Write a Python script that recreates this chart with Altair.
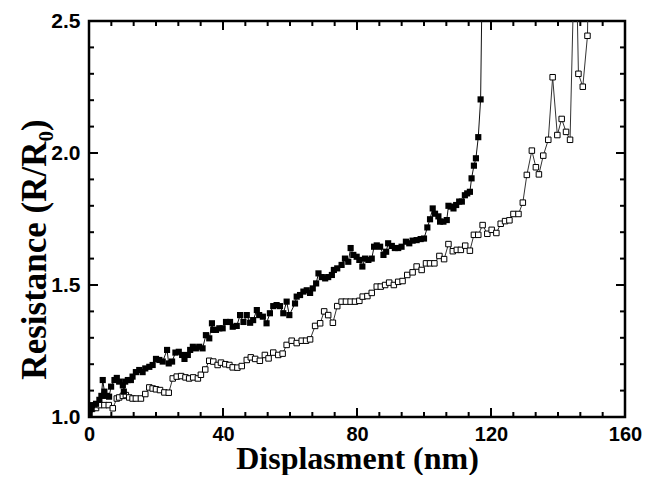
import altair as alt
import pandas as pd

# ---- data ----
filled_x = [0.2, 0.8, 1.1, 2.1, 3.1, 3.7, 4.1, 4.6, 5.3, 6.0, 6.6, 7.6, 8.3, 9.0, 10.1, 10.4, 10.8, 11.6,
            12.5, 13.0, 14.0, 15.0, 16.0, 16.8, 18.0, 19.0, 20.0, 21.0, 22.0, 23.3, 23.8, 24.8, 25.8, 26.8,
            27.8, 28.5, 29.5, 30.2, 31.0, 31.9, 32.9, 33.9, 34.9, 35.9, 36.7, 37.1, 37.9, 38.9, 39.9, 40.9,
            42.1, 42.9, 44.1, 45.1, 46.1, 47.1, 48.1, 49.0, 50.1, 50.8, 51.9, 53.0, 54.0, 55.0, 56.0, 57.0,
            58.0, 59.0, 59.8, 61.5, 62.0, 63.0, 64.0, 65.0, 66.0, 66.8, 67.8, 68.5, 69.5, 70.5, 71.4, 72.5,
            73.1, 74.1, 75.4, 76.4, 77.4, 78.1, 78.9, 79.9, 80.7, 81.6, 82.4, 83.4, 84.4, 85.1, 85.9, 86.9,
            87.9, 88.7, 89.3, 90.4, 91.3, 92.3, 93.3, 94.6, 95.6, 96.6, 97.8, 99.0, 100.0, 101.0, 101.8,
            102.6, 103.3, 104.3, 104.8, 105.8, 106.8, 107.3, 108.1, 108.8, 109.6, 110.5, 111.3, 112.2,
            112.9, 113.7, 114.2, 114.9, 115.5, 116.2, 116.9, 117.5]
filled_y = [1.01, 1.03, 1.045, 1.05, 1.065, 1.08, 1.14, 1.096, 1.08, 1.077, 1.115, 1.14, 1.148, 1.134, 1.12,
            1.096, 1.134, 1.14, 1.14, 1.153, 1.17, 1.178, 1.17, 1.184, 1.19, 1.197, 1.22, 1.216, 1.21, 1.254,
            1.203, 1.21, 1.244, 1.247, 1.235, 1.22, 1.235, 1.254, 1.266, 1.26, 1.266, 1.26, 1.31, 1.298,
            1.355, 1.33, 1.33, 1.336, 1.336, 1.36, 1.36, 1.342, 1.345, 1.386, 1.36, 1.386, 1.357, 1.367,
            1.405, 1.386, 1.38, 1.355, 1.393, 1.42, 1.424, 1.42, 1.393, 1.437, 1.386, 1.43, 1.456, 1.462,
            1.475, 1.48, 1.47, 1.487, 1.506, 1.544, 1.53, 1.525, 1.53, 1.538, 1.557, 1.563, 1.576, 1.6,
            1.588, 1.64, 1.614, 1.607, 1.595, 1.57, 1.6, 1.595, 1.6, 1.645, 1.65, 1.645, 1.614, 1.626,
            1.658, 1.648, 1.64, 1.64, 1.645, 1.664, 1.658, 1.668, 1.67, 1.674, 1.676, 1.718, 1.749, 1.79,
            1.77, 1.76, 1.74, 1.74, 1.746, 1.80, 1.797, 1.79, 1.803, 1.816, 1.816, 1.84, 1.847, 1.853,
            1.904, 1.952, 1.98, 2.06, 2.203, 2.8]

open_x = [0.1, 1.1, 2.1, 3.1, 4.6, 5.9, 7.1, 8.3, 9.0, 10.1, 11.0, 12.0, 13.0, 14.0, 15.5, 16.8, 18.0,
          19.0, 20.0, 21.2, 22.5, 23.8, 25.0, 26.2, 27.5, 28.8, 29.9, 31.1, 32.5, 33.4, 34.7, 35.9, 37.1,
          38.4, 39.4, 40.7, 41.9, 42.9, 44.3, 45.6, 47.1, 48.3, 49.6, 51.0, 52.5, 53.6, 55.0, 56.5, 57.8,
          59.0, 60.5, 62.0, 63.5, 64.8, 66.0, 67.5, 69.0, 70.2, 71.4, 72.8, 74.1, 75.4, 76.7, 78.1, 79.4,
          80.7, 81.7, 83.1, 84.4, 85.9, 87.1, 88.4, 89.6, 91.0, 92.3, 93.6, 95.0, 96.6, 97.8, 99.3, 100.6,
          101.8, 103.1, 104.6, 106.0, 107.3, 108.6, 109.8, 111.0, 112.3, 113.7, 114.9, 116.2, 117.5,
          118.9, 120.2, 121.6, 122.9, 124.2, 125.5, 126.7, 128.2, 129.5, 130.7, 132.2, 133.4, 134.3,
          135.6, 137.1, 138.4, 139.8, 141.1, 142.4, 143.6, 145.2, 146.1, 147.4, 148.8, 149.3]
open_y = [1.027, 1.033, 1.034, 1.045, 1.045, 1.045, 1.033, 1.07, 1.074, 1.08, 1.083, 1.074, 1.07, 1.07,
          1.07, 1.087, 1.112, 1.108, 1.105, 1.102, 1.093, 1.092, 1.146, 1.153, 1.155, 1.15, 1.146, 1.15,
          1.146, 1.16, 1.18, 1.213, 1.21, 1.197, 1.206, 1.2, 1.197, 1.188, 1.187, 1.193, 1.216, 1.226,
          1.22, 1.213, 1.235, 1.222, 1.244, 1.235, 1.24, 1.273, 1.289, 1.28, 1.289, 1.289, 1.294, 1.345,
          1.355, 1.40, 1.386, 1.357, 1.42, 1.437, 1.437, 1.437, 1.437, 1.44, 1.456, 1.458, 1.47, 1.494,
          1.494, 1.50, 1.509, 1.50, 1.512, 1.515, 1.538, 1.548, 1.57, 1.557, 1.582, 1.582, 1.582, 1.61,
          1.598, 1.655, 1.628, 1.633, 1.633, 1.649, 1.63, 1.69, 1.69, 1.727, 1.694, 1.709, 1.697, 1.732,
          1.742, 1.745, 1.769, 1.769, 1.812, 1.917, 2.009, 1.946, 1.919, 1.99, 2.05, 2.287, 2.068, 2.129,
          2.08, 2.05, 2.9, 2.30, 2.251, 2.444, 2.9]

x_major = [0, 40, 80, 120, 160]
x_minor = [6.667, 13.333, 20, 26.667, 33.333, 46.667, 53.333, 60, 66.667, 73.333,
           86.667, 93.333, 100, 106.667, 113.333, 126.667, 133.333, 140, 146.667, 153.333]
y_major = [1.0, 1.5, 2.0, 2.5]
y_minor = [1.1, 1.2, 1.3, 1.4, 1.6, 1.7, 1.8, 1.9, 2.1, 2.2, 2.3, 2.4]

W, H = 536, 396

filled = pd.DataFrame({"x": filled_x, "y": filled_y})
opened = pd.DataFrame({"x": open_x, "y": open_y})

xscale = alt.Scale(domain=[0, 160], nice=False, zero=False)
yscale = alt.Scale(domain=[1.0, 2.5], nice=False, zero=False)

xaxis = alt.Axis(values=x_major, title="Displasment (nm)", format="d", labelFlush=False,
                 ticks=False, domain=False, grid=False, labelPadding=7, labelFontSize=20,
                 titleX=W / 2, titleY=51, titleBaseline="alphabetic", titleAnchor="middle",
                 titleFontSize=32)
yaxis = alt.Axis(values=y_major, title="Resistance (R/R\u2080)", format=".1f", labelFlush=False,
                 ticks=False, domain=False, grid=False, labelPadding=9,
                 titleX=-44, titleY=228, titleBaseline="alphabetic", titleAngle=-90, titleAlign="center")

X = alt.X("x:Q", scale=xscale, axis=xaxis)
Y = alt.Y("y:Q", scale=yscale, axis=yaxis)

line_f = alt.Chart(filled).mark_line(color="#111", strokeWidth=1, clip=True).encode(x=X, y=Y)
line_o = alt.Chart(opened).mark_line(color="#333", strokeWidth=1, clip=True).encode(x=X, y=Y)
pts_o = alt.Chart(opened).mark_point(shape="square", filled=False, fill="white", fillOpacity=1,
                                     color="black", stroke="black", strokeWidth=1, size=30,
                                     opacity=1, clip=True).encode(x=X, y=Y)
pts_f = alt.Chart(filled).mark_point(shape="square", filled=True, color="black", size=38,
                                     opacity=1, clip=True).encode(x=X, y=Y)


def xticks(vals, length):
    df = pd.DataFrame({"x": vals})
    bottom = alt.Chart(df).mark_rule(color="black", strokeWidth=2).encode(
        x=X, y=alt.value(H), y2=alt.value(H - length))
    top = alt.Chart(df).mark_rule(color="black", strokeWidth=2).encode(
        x=X, y=alt.value(0), y2=alt.value(length))
    return [bottom, top]


def yticks(vals, length):
    df = pd.DataFrame({"y": vals})
    left = alt.Chart(df).mark_rule(color="black", strokeWidth=2).encode(
        y=Y, x=alt.value(0), x2=alt.value(length))
    right = alt.Chart(df).mark_rule(color="black", strokeWidth=2).encode(
        y=Y, x=alt.value(W), x2=alt.value(W - length))
    return [left, right]


layers = [line_o, line_f, pts_o, pts_f] + xticks(x_major, 9) + xticks(x_minor, 5) \
    + yticks(y_major, 9) + yticks(y_minor, 5)

chart = alt.layer(*layers).properties(
    width=W, height=H,
    autosize=alt.AutoSizeParams(type="none"),
    padding={"left": 81, "top": 13, "right": 26, "bottom": 58},
    background="white",
).configure_view(
    stroke="black", strokeWidth=2.5
).configure_axis(
    labelFont="Liberation Sans", labelFontSize=21, labelFontWeight="bold", labelColor="black",
    titleFont="Liberation Serif", titleFontSize=35, titleFontWeight="bold", titleColor="black",
)

chart.save("out.html", embed_options={"renderer": "svg", "actions": False})
